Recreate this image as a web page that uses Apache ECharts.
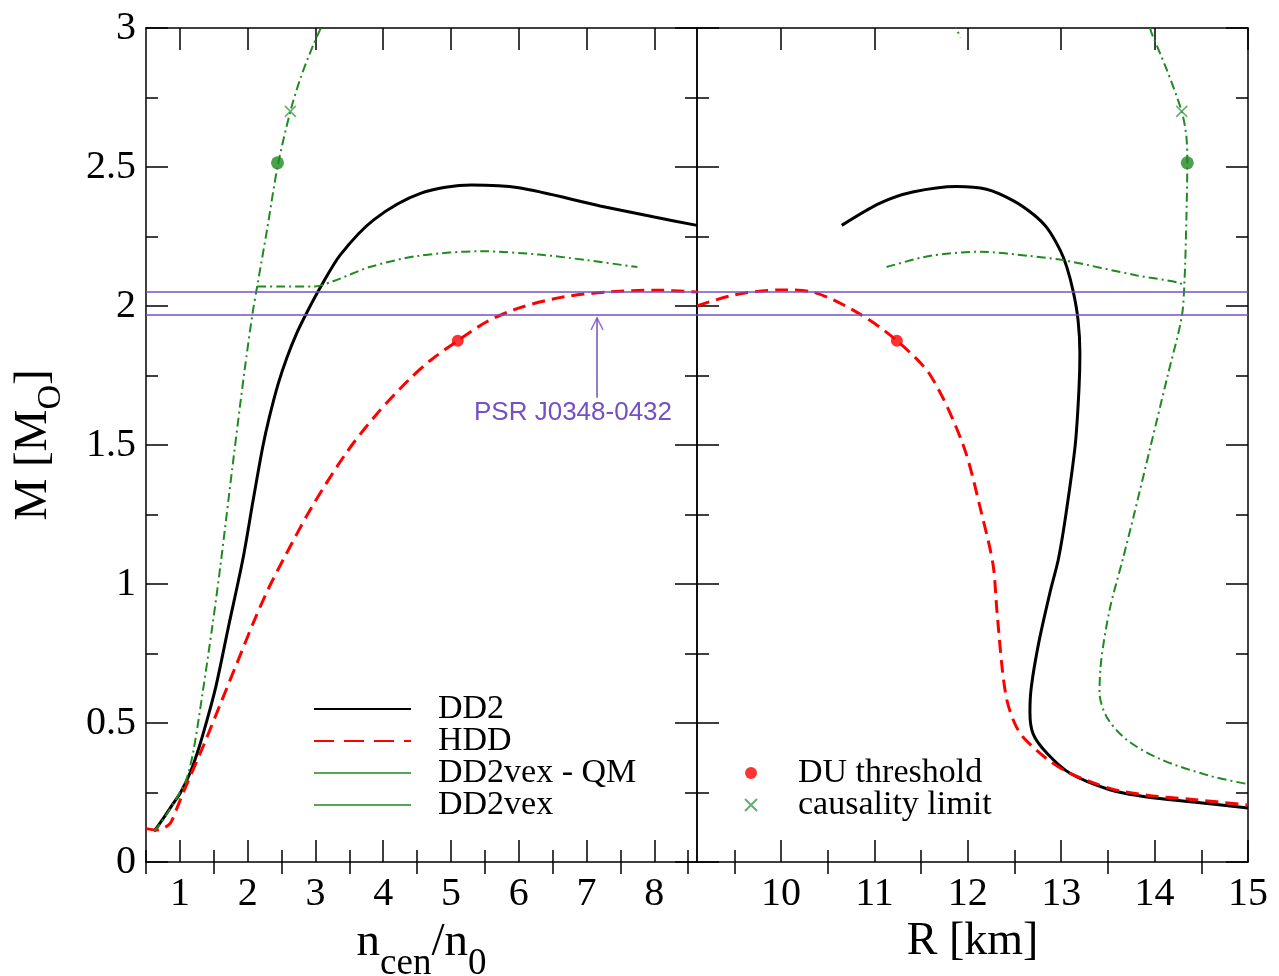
<!DOCTYPE html>
<html><head><meta charset="utf-8">
<script src="https://cdn.jsdelivr.net/npm/echarts@6/dist/echarts.min.js"></script>
<style>html,body{margin:0;padding:0;background:#fff}#c{width:1279px;height:976px}</style>
</head><body><div id="c"></div>
<script>
// ---- tick values ----
const yTicks = [0, 0.5, 1, 1.5, 2, 2.5, 3];
const nMajor = [1, 2, 3, 4, 5, 6, 7, 8];
const nMinor = [0.5, 1.5, 2.5, 3.5, 4.5, 5.5, 6.5, 7.5, 8.5];
const rMajor = [10, 11, 12, 13, 14, 15];
const rMinor = [9.5, 10.5, 11.5, 12.5, 13.5, 14.5];

// ---- left panel: M vs n_cen/n0 ----
const dd2Left = [[0.62,0.11],[0.75,0.155],[0.9,0.21],[1.01,0.25],[1.15,0.32],[1.28,0.41],[1.4,0.51],[1.53,0.63],[1.72,0.85],[1.93,1.09],[2.08,1.3],[2.22,1.49],[2.32,1.6],[2.45,1.72],[2.58,1.815],[2.72,1.9],[2.87,1.975],[3.08,2.07],[3.37,2.185],[3.86,2.31],[4.55,2.405],[5.3,2.435],[6.0,2.425],[7.2,2.36],[8.0,2.32],[8.63,2.29]];
const hddLeft = [[0.5,0.12],[0.65,0.115],[0.76,0.122],[0.86,0.14],[0.95,0.19],[1.05,0.25],[1.35,0.42],[1.6,0.57],[1.85,0.72],[2.1,0.87],[2.3,0.98],[2.53,1.09],[2.93,1.27],[3.45,1.47],[3.9,1.61],[4.36,1.73],[4.7,1.805],[5.1,1.875],[5.54,1.945],[6.03,1.995],[6.67,2.033],[7.3,2.05],[8.0,2.057],[8.63,2.05]];
const vexLeft = [[0.62,0.11],[0.8,0.17],[1.0,0.25],[1.1,0.3],[1.2,0.4],[1.33,0.6],[1.48,0.85],[1.6,1.07],[1.8,1.47],[1.95,1.76],[2.07,1.97],[2.14,2.07],[2.29,2.28],[2.44,2.5],[2.63,2.7],[2.78,2.82],[2.97,2.94],[3.08,3.0]];
const vexQmLeft = [[2.14,2.07],[2.5,2.07],[2.98,2.07],[3.27,2.09],[3.8,2.14],[4.51,2.18],[5.44,2.197],[6.3,2.185],[7.0,2.165],[7.75,2.14]];

// ---- right panel: M vs R [km] ----
const dd2Right = [[10.65,2.29],[11.06,2.37],[11.41,2.41],[11.88,2.43],[12.2,2.42],[12.48,2.38],[12.7,2.33],[12.85,2.28],[12.99,2.2],[13.06,2.14],[13.13,2.05],[13.18,1.95],[13.2,1.83],[13.19,1.7],[13.15,1.5],[13.05,1.25],[12.97,1.09],[12.88,0.97],[12.76,0.79],[12.68,0.63],[12.665,0.54],[12.7,0.46],[12.85,0.39],[13.09,0.32],[13.52,0.26],[13.92,0.234],[14.41,0.216],[15.0,0.194]];
const hddRight = [[9.1,2.0],[9.5,2.04],[10.0,2.058],[10.34,2.05],[10.85,1.97],[11.24,1.875],[11.6,1.75],[11.95,1.5],[12.15,1.25],[12.27,1.07],[12.31,0.91],[12.37,0.69],[12.42,0.58],[12.5,0.5],[12.59,0.45],[12.85,0.37],[13.09,0.32],[13.52,0.265],[13.92,0.24],[14.41,0.225],[15.0,0.205]];
const vexRight = [[13.95,3.0],[13.97,2.98],[14.13,2.85],[14.29,2.7],[14.34,2.61],[14.35,2.515],[14.34,2.31],[14.32,2.09],[14.29,1.96],[14.14,1.75],[13.96,1.5],[13.78,1.25],[13.66,1.09],[13.52,0.91],[13.43,0.73],[13.41,0.61],[13.49,0.52],[13.7,0.44],[14.06,0.37],[14.59,0.31],[15.0,0.28]];
const vexRightTop = [[11.84,3.03],[11.92,2.965]];
const vexQmRight = [[11.13,2.14],[11.59,2.18],[12.13,2.195],[12.66,2.18],[13.02,2.165],[13.81,2.11],[14.27,2.083],[14.31,2.07]];

// ---- markers ----
const duLeft = [[5.1, 1.875]];
const duRight = [[11.24, 1.875]];
const vexDuLeft = [[2.44, 2.515]];
const vexDuRight = [[14.35, 2.515]];
const causalLeft = [[2.63, 2.70]];
const causalRight = [[14.29, 2.70]];

// ---- PSR J0348-0432 band and arrow ----
const psrBand = [1.97, 2.047];
const psrArrow = [[7.155, 1.67], [7.155, 1.957]];

const SERIF = 'Liberation Serif';
const SANS = 'Liberation Sans';
const BLACK = '#000', RED = '#ff0000', GREEN = '#1f8a1f', LGREEN = '#3f9a4f', PURPLE = '#7450c4';

const axLine = {show: true, onZero: false, lineStyle: {color: BLACK, width: 1.5}};
const tickLS = {color: BLACK, width: 1.5};

function xAxesFor(grid, min, max, major, minor, name, nameGap, rich) {
  const base = {type: 'value', gridIndex: grid, min: min, max: max, splitLine: {show: false}};
  return [
    Object.assign({}, base, {position: 'bottom', axisLine: axLine,
      axisTick: {show: true, inside: true, length: 22, customValues: major, lineStyle: tickLS},
      axisLabel: {show: true, customValues: major, fontFamily: SERIF, fontSize: 40, color: BLACK, margin: 12},
      name: name, nameLocation: 'middle', nameGap: nameGap, nameTextStyle: {rich: rich}}),
    Object.assign({}, base, {position: 'bottom', axisLine: {show: false},
      axisTick: {show: true, inside: true, length: 12, customValues: minor, lineStyle: tickLS},
      axisLabel: {show: false}}),
    Object.assign({}, base, {position: 'top', axisLine: axLine,
      axisTick: {show: true, inside: true, length: 22, customValues: major, lineStyle: tickLS},
      axisLabel: {show: false}}),
    Object.assign({}, base, {position: 'top', axisLine: {show: false},
      axisTick: {show: true, inside: true, length: 12, customValues: minor, lineStyle: tickLS},
      axisLabel: {show: false}})
  ];
}
function yAxisFor(grid, pos, labels, extra) {
  return Object.assign({type: 'value', gridIndex: grid, position: pos, min: 0, max: 3, interval: 0.5,
    axisLine: axLine, splitLine: {show: false},
    axisTick: {show: true, inside: true, length: 22, lineStyle: tickLS},
    minorTick: {show: true, splitNumber: 2, length: 12, lineStyle: tickLS},
    axisLabel: {show: labels, fontFamily: SERIF, fontSize: 40, color: BLACK, margin: 10}}, extra || {});
}

const subRich = {
  a: {fontFamily: SERIF, fontSize: 47, color: BLACK, verticalAlign: 'top'},
  s: {fontFamily: SERIF, fontSize: 37, color: BLACK, verticalAlign: 'top', padding: [27, 0, 0, 0]}
};
const plainRich = {a: {fontFamily: SERIF, fontSize: 46, color: BLACK}};

const dd2Style = {color: BLACK, width: 3, type: 'solid'};
const hddStyle = {color: RED, width: 3, type: [13, 7]};
const vexStyle = {color: GREEN, width: 2, type: [9, 4, 2, 4]};

function curve(name, data, grid, style, extra) {
  return Object.assign({type: 'line', name: name, data: data, xAxisIndex: grid * 4, yAxisIndex: grid * 2,
    symbol: 'none', smooth: 0.3, lineStyle: style, itemStyle: {color: style.color}, z: 3,
    silent: true, emphasis: {disabled: true}, animation: false}, extra || {});
}
function psrMark() {
  return {silent: true, symbol: ['none', 'none'], label: {show: false}, animation: false,
    lineStyle: {color: PURPLE, width: 1.5, type: 'solid'}, emphasis: {disabled: true},
    data: [{yAxis: psrBand[0]}, {yAxis: psrBand[1]}]};
}
function marker(name, data, grid, symbol, size, itemStyle) {
  return {type: 'scatter', name: name, data: data, xAxisIndex: grid * 4, yAxisIndex: grid * 2,
    symbol: symbol, symbolSize: size, itemStyle: itemStyle, z: 5, silent: true,
    emphasis: {disabled: true}, animation: false};
}
const CROSS = 'path://M0,0L10,10M10,0L0,10';
const crossStyle = {color: 'rgba(0,0,0,0)', borderColor: LGREEN, borderWidth: 1.5};

const option = {
  backgroundColor: '#fff',
  animation: false,
  grid: [
    {left: 146, top: 28, width: 551, height: 834, outerBoundsMode: 'none'},
    {left: 697, top: 28, width: 551, height: 834, outerBoundsMode: 'none'}
  ],
  xAxis: [].concat(
    xAxesFor(0, 0.5, 8.63, nMajor, nMinor, '{a|n}{s|cen}{a|/n}{s|0}', 56, subRich),
    xAxesFor(1, 9.1, 15, rMajor, rMinor, '{a|R [km]}', 56, plainRich)
  ),
  yAxis: [
    yAxisFor(0, 'left', true, {name: '{a|M [M}{s|O}{a|]}', nameLocation: 'middle', nameRotate: 90, nameGap: 78,
      nameTextStyle: {rich: {
        a: {fontFamily: SERIF, fontSize: 47, color: BLACK, verticalAlign: 'top'},
        s: {fontFamily: SERIF, fontSize: 34, color: BLACK, verticalAlign: 'top', padding: [24, 0, 0, 0]}}}}),
    yAxisFor(0, 'right', false),
    yAxisFor(1, 'left', false),
    yAxisFor(1, 'right', false)
  ],
  legend: [
    {orient: 'vertical', left: 313, top: 692, padding: 0, itemWidth: 97, itemHeight: 14, itemGap: -2,
      selectedMode: false, itemStyle: {opacity: 0},
      textStyle: {fontFamily: SERIF, fontSize: 34, color: BLACK, lineHeight: 30, padding: [0, 0, 0, 22]},
      data: [
        {name: 'DD2'},
        {name: 'HDD', lineStyle: {type: [20, 10]}},
        {name: 'DD2vex - QM', lineStyle: {type: 'solid', width: 1.5}},
        {name: 'DD2vex', lineStyle: {type: 'solid', width: 1.5}}
      ]},
    {orient: 'vertical', left: 744, top: 756, padding: 0, itemWidth: 12, itemHeight: 12, itemGap: -2,
      selectedMode: false,
      textStyle: {fontFamily: SERIF, fontSize: 34, color: BLACK, lineHeight: 30, padding: [0, 0, 0, 36]},
      data: ['DU threshold', 'causality limit']}
  ],
  graphic: [
    {type: 'text', left: 474, top: 400, silent: true,
      style: {text: 'PSR J0348-0432', fontFamily: SANS, fontSize: 26, fill: PURPLE}}
  ],
  series: [
    curve('DD2', dd2Left, 0, dd2Style, {markLine: psrMark()}),
    curve('HDD', hddLeft, 0, hddStyle),
    curve('DD2vex', vexLeft, 0, vexStyle),
    curve('DD2vex - QM', vexQmLeft, 0, vexStyle),
    curve('DD2', dd2Right, 1, dd2Style, {markLine: psrMark()}),
    curve('HDD', hddRight, 1, hddStyle),
    curve('DD2vex', vexRight, 1, vexStyle),
    curve('DD2vex', vexRightTop, 1, vexStyle),
    curve('DD2vex - QM', vexQmRight, 1, vexStyle),
    curve('psr-arrow', psrArrow, 0, {color: PURPLE, width: 1.5, type: 'solid'}, {smooth: false}),
    marker('psr-head', [psrArrow[1]], 0, 'path://M0,12L6,0L12,12', [12, 12],
      {color: 'rgba(0,0,0,0)', borderColor: PURPLE, borderWidth: 1.5}),
    marker('DU threshold', duLeft, 0, 'circle', 12, {color: RED}),
    marker('DU threshold', duRight, 1, 'circle', 12, {color: RED}),
    marker('vex-du', vexDuLeft, 0, 'circle', 13, {color: GREEN}),
    marker('vex-du', vexDuRight, 1, 'circle', 13, {color: GREEN}),
    marker('causality limit', causalLeft, 0, CROSS, 11, crossStyle),
    marker('causality limit', causalRight, 1, CROSS, 11, crossStyle)
  ]
};
// arrow head tip at data point
option.series[10].symbolOffset = [0, 6];

const chart = echarts.init(document.getElementById('c'), null, {renderer: 'canvas'});
chart.setOption(option);
</script>
</body></html>
